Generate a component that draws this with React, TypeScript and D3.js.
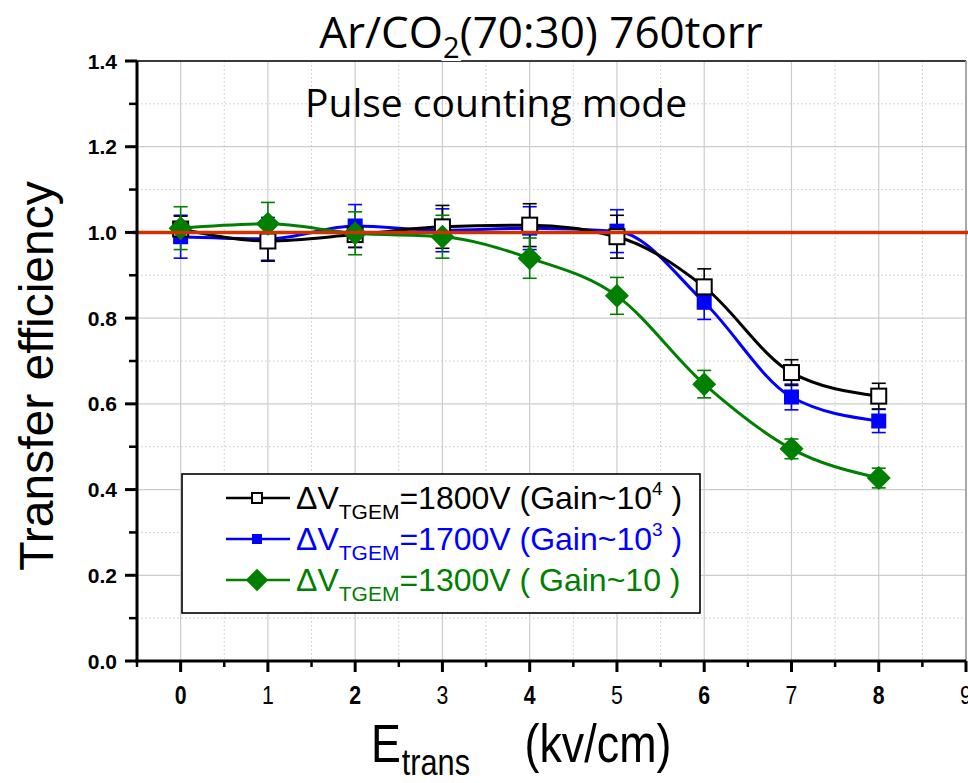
import React from "react";
import * as d3 from "d3";

// Transfer field (kV/cm)
const fields = [0, 1, 2, 3, 4, 5, 6, 7, 8];

// ΔV_TGEM = 1800 V (Gain ~ 10^4)
const eff1800 = [1.008, 0.98, 0.995, 1.013, 1.017, 0.99, 0.873, 0.673, 0.618];
const err1800 = [0.03, 0.047, 0.03, 0.05, 0.05, 0.05, 0.042, 0.03, 0.03];

// ΔV_TGEM = 1700 V (Gain ~ 10^3)
const eff1700 = [0.99, 0.985, 1.015, 1.005, 1.01, 1.003, 0.837, 0.616, 0.56];
const err1700 = [0.05, 0.05, 0.05, 0.05, 0.05, 0.05, 0.04, 0.03, 0.027];

// ΔV_TGEM = 1300 V (Gain ~ 10)
const eff1300 = [1.01, 1.02, 0.998, 0.99, 0.94, 0.852, 0.646, 0.495, 0.427];
const err1300 = [0.05, 0.05, 0.05, 0.05, 0.047, 0.043, 0.032, 0.023, 0.023];

const xTicks = [0, 1, 2, 3, 4, 5, 6, 7, 8, 9];
const yTicks = [0, 0.2, 0.4, 0.6, 0.8, 1.0, 1.2, 1.4];
const referenceLevel = 1.0;

const W = 968;
const H = 783;
const left = 137;
const right = 966;
const top = 61;
const bottom = 661;

export default function App() {
  const x = d3.scaleLinear().domain([-0.5, 9]).range([left, right]);
  const y = d3.scaleLinear().domain([0, 1.4]).range([bottom, top]);

  const xMinor = d3.range(-0.5, 9, 1);
  const yMinor = d3.range(0.1, 1.4, 0.2);

  const line = d3
    .line<[number, number]>()
    .x((d) => x(d[0]))
    .y((d) => y(d[1]))
    .curve(d3.curveMonotoneX);

  const series = [
    { vals: eff1700, errs: err1700, color: "#0000ff", marker: "filled" },
    { vals: eff1800, errs: err1800, color: "#000000", marker: "open" },
    { vals: eff1300, errs: err1300, color: "#007f00", marker: "diamond" },
  ];

  const marker = (kind: string, cx: number, cy: number, color: string, s: number, key?: any) => {
    if (kind === "diamond") {
      const h = s * 0.75;
      return (
        <path
          key={key}
          d={`M${cx},${cy - h}L${cx + h},${cy}L${cx},${cy + h}L${cx - h},${cy}Z`}
          fill={color}
        />
      );
    }
    return (
      <rect
        key={key}
        x={cx - s / 2}
        y={cy - s / 2}
        width={s}
        height={s}
        fill={kind === "open" ? "#ffffff" : color}
        stroke={kind === "open" ? "#000" : "none"}
        strokeWidth={kind === "open" ? 2 : 0}
      />
    );
  };

  const legendRows = [
    { color: "#000000", marker: "open", v: "1800V (Gain~10", sup: "4", tail: " )" },
    { color: "#0000ff", marker: "filled", v: "1700V (Gain~10", sup: "3", tail: " )" },
    { color: "#007f00", marker: "diamond", v: "1300V ( Gain~10 )", sup: "", tail: "" },
  ];

  return (
    <svg
      width={W}
      height={H}
      style={{ position: "absolute", left: 0, top: 0, background: "#fff" }}
      fontFamily="'Liberation Sans', Arial, sans-serif"
    >
      <rect width={W} height={H} fill="#fff" />

      {/* grid */}
      {xMinor.map((v) => (
        <line key={"xm" + v} x1={x(v)} x2={x(v)} y1={top} y2={bottom} stroke="#c8c8c8" strokeWidth={1} strokeDasharray="1.5,2.5" />
      ))}
      {yMinor.map((v) => (
        <line key={"ym" + v} x1={left} x2={right} y1={y(v)} y2={y(v)} stroke="#c8c8c8" strokeWidth={1} strokeDasharray="1.5,2.5" />
      ))}
      {xTicks.map((v) => (
        <line key={"xg" + v} x1={x(v)} x2={x(v)} y1={top} y2={bottom} stroke="#cccccc" strokeWidth={1.2} />
      ))}
      {yTicks.map((v) => (
        <line key={"yg" + v} x1={left} x2={right} y1={y(v)} y2={y(v)} stroke="#cccccc" strokeWidth={1.2} />
      ))}

      {/* frame */}
      <line x1={left} x2={right} y1={top} y2={top} stroke="#000" strokeWidth={1.6} />
      <line x1={right} x2={right} y1={top} y2={bottom} stroke="#9a9a9a" strokeWidth={1.6} />

      {/* error bars */}
      {series.map((s, si) =>
        fields.map((f, i) => {
          const cx = x(f);
          const y1 = y(s.vals[i] + s.errs[i]);
          const y2 = y(s.vals[i] - s.errs[i]);
          return (
            <g key={`e${si}-${i}`} stroke={s.color} strokeWidth={1.6}>
              <line x1={cx} x2={cx} y1={y1} y2={y2} />
              <line x1={cx - 7} x2={cx + 7} y1={y1} y2={y1} />
              <line x1={cx - 7} x2={cx + 7} y1={y2} y2={y2} />
            </g>
          );
        })
      )}

      {/* fitted curves and markers */}
      {series.map((s, si) => (
        <g key={"s" + si}>
          <path
            d={line(fields.map((f, i) => [f, s.vals[i]] as [number, number])) || ""}
            fill="none"
            stroke={s.color}
            strokeWidth={3}
          />
          {fields.map((f, i) =>
            marker(s.marker, x(f), y(s.vals[i]), s.color, s.marker === "diamond" ? 16 : 15, i)
          )}
        </g>
      ))}

      {/* reference level */}
      <line x1={left - 4} x2={W} y1={y(referenceLevel)} y2={y(referenceLevel)} stroke="#cc3300" strokeWidth={3.5} />

      {/* axes */}
      <line x1={left} x2={left} y1={top} y2={bottom + 1.5} stroke="#000" strokeWidth={3} />
      <line x1={left - 1.5} x2={right} y1={bottom} y2={bottom} stroke="#000" strokeWidth={3} />

      {yTicks.map((v) => (
        <g key={"yt" + v}>
          <line x1={left - 12} x2={left} y1={y(v)} y2={y(v)} stroke="#000" strokeWidth={3} />
          <text x={117} y={y(v) + 7.5} textAnchor="end" fontSize={21} fontWeight="bold">
            {v.toFixed(1)}
          </text>
        </g>
      ))}
      {yMinor.map((v) => (
        <line key={"ytm" + v} x1={left - 8} x2={left} y1={y(v)} y2={y(v)} stroke="#000" strokeWidth={2.5} />
      ))}
      {xTicks.map((v) => (
        <g key={"xt" + v}>
          <line x1={x(v)} x2={x(v)} y1={bottom} y2={bottom + 11} stroke="#000" strokeWidth={3} />
          <text
            transform={`translate(${x(v)},704) scale(0.85,1)`}
            textAnchor="middle"
            fontSize={25}
            fontWeight={v % 2 === 0 ? "bold" : "normal"}
          >
            {v}
          </text>
        </g>
      ))}
      {xMinor.map((v) => (
        <line key={"xtm" + v} x1={x(v)} x2={x(v)} y1={bottom} y2={bottom + 6} stroke="#000" strokeWidth={2.5} />
      ))}

      {/* axis titles */}
      <text transform="translate(53,376) rotate(-90)" textAnchor="middle" fontSize={48}>
        Transfer efficiency
      </text>
      <g transform="translate(371,762) scale(0.83,1)">
        <text x={0} y={0} fontSize={54}>E</text>
        <text x={37} y={13} fontSize={37}>trans</text>
        <text x={185} y={0} fontSize={54}>(kv/cm)</text>
      </g>

      {/* titles */}
      <text x={541} y={48} textAnchor="middle" fontSize={44} fontFamily="'Open Sans', 'DejaVu Sans', sans-serif">
        Ar/CO
        <tspan dy={10} fontSize={29} stroke="#fff" strokeWidth={6} paintOrder="stroke">2</tspan>
        <tspan dy={-10}>(70:30) 760torr</tspan>
      </text>
      <text x={305} y={117} fontSize={39} fontFamily="'Open Sans', 'DejaVu Sans', sans-serif">
        Pulse counting mode
      </text>

      {/* legend */}
      <rect x={182} y={474} width={518} height={139} fill="#fff" stroke="#000" strokeWidth={1.6} />
      {legendRows.map((r, i) => {
        const base = 509 + i * 41;
        const cy = base - 11;
        return (
          <g key={"lg" + i}>
            <line x1={226} x2={290} y1={cy} y2={cy} stroke={r.color} strokeWidth={2.5} />
            {marker(r.marker, 257, cy, r.color, r.marker === "diamond" ? 15 : 10)}
            <text x={296} y={base} fontSize={32} fill={r.color}>
              ΔV
              <tspan dy={10} fontSize={21}>TGEM</tspan>
              <tspan dy={-10}>={r.v}</tspan>
              {r.sup ? <tspan dy={-14} fontSize={19}>{r.sup}</tspan> : null}
              {r.sup ? <tspan dy={14}>{r.tail}</tspan> : null}
            </text>
          </g>
        );
      })}
    </svg>
  );
}
